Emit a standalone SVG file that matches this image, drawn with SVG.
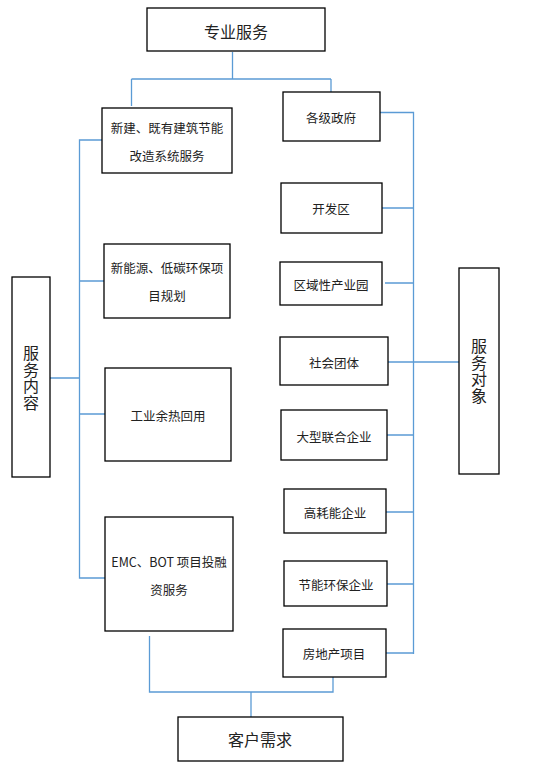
<svg xmlns="http://www.w3.org/2000/svg" width="542" height="773" viewBox="0 0 542 773">
<style>
.box{fill:#fff;stroke:#000;stroke-width:1.3}
.t{font-family:"Noto Sans CJK SC","Liberation Sans",sans-serif;fill:#222;text-anchor:middle;dominant-baseline:central}
.v{font-family:"Noto Sans CJK SC","Liberation Sans",sans-serif;fill:#222;text-anchor:middle;writing-mode:vertical-rl;text-orientation:upright;font-size:16px;letter-spacing:0.5px}
.s{font-size:12.5px}
.l{font-size:16px}
.c{fill:none;stroke:#5b9bd5;stroke-width:1.3}
</style>
<rect width="542" height="773" fill="#fff"/>
<g id="connectors">
<path class="c" d="M232.5 52V79M131.5 79H331M131.5 79V106M331 79V92"/>
<path class="c" d="M102 140H79.5V578H105M79.5 281H104M79.5 414H105M50 378H79.5"/>
<path class="c" d="M380 112.5H413.5V654M382 208H413.5M385 283H413.5M388 362H460M387 435H413.5M386 512H413.5M387 584H413.5M386 653H413.5"/>
<path class="c" d="M149.5 636V692H333V677M251 692V718"/>
</g>
<g id="n1"><rect class="box" x="147" y="8" width="178" height="43"/><text class="t l" x="236" y="31">专业服务</text></g>
<g id="n2"><rect class="box" x="102" y="108" width="130" height="65"/><text class="t s" x="167" y="127">新建、既有建筑节能</text><text class="t s" x="167" y="155">改造系统服务</text></g>
<g id="n3"><rect class="box" x="104" y="244" width="126" height="74"/><text class="t s" x="167" y="267">新能源、低碳环保项</text><text class="t s" x="167" y="295">目规划</text></g>
<g id="n4"><rect class="box" x="105" y="368" width="126" height="93"/><text class="t s" x="168" y="415">工业余热回用</text></g>
<g id="n5"><rect class="box" x="105" y="517" width="128" height="114"/><text class="t s" x="169" y="561">EMC、BOT 项目投融</text><text class="t s" x="169" y="589">资服务</text></g>
<g id="n6"><rect class="box" x="12" y="277" width="38" height="200"/><text class="v" x="31" y="378">服务内容</text></g>
<g id="n7"><rect class="box" x="283" y="92" width="97" height="49"/><text class="t s" x="331" y="117">各级政府</text></g>
<g id="n8"><rect class="box" x="281" y="183" width="101" height="50"/><text class="t s" x="331" y="208">开发区</text></g>
<g id="n9"><rect class="box" x="280" y="262" width="102" height="43"/><text class="t s" x="331" y="284">区域性产业园</text></g>
<g id="n10"><rect class="box" x="280" y="337" width="108" height="48"/><text class="t s" x="334" y="362">社会团体</text></g>
<g id="n11"><rect class="box" x="281" y="410" width="106" height="50"/><text class="t s" x="334" y="436">大型联合企业</text></g>
<g id="n12"><rect class="box" x="284" y="489" width="102" height="44"/><text class="t s" x="335" y="512">高耗能企业</text></g>
<g id="n13"><rect class="box" x="284" y="561" width="103" height="45"/><text class="t s" x="336" y="584">节能环保企业</text></g>
<g id="n14"><rect class="box" x="283" y="629" width="103" height="48"/><text class="t s" x="334" y="653">房地产项目</text></g>
<g id="n15"><rect class="box" x="459" y="268" width="40" height="206"/><text class="v" x="479" y="371">服务对象</text></g>
<g id="n16"><rect class="box" x="178" y="717" width="165" height="44"/><text class="t l" x="260" y="739">客户需求</text></g>
</svg>
